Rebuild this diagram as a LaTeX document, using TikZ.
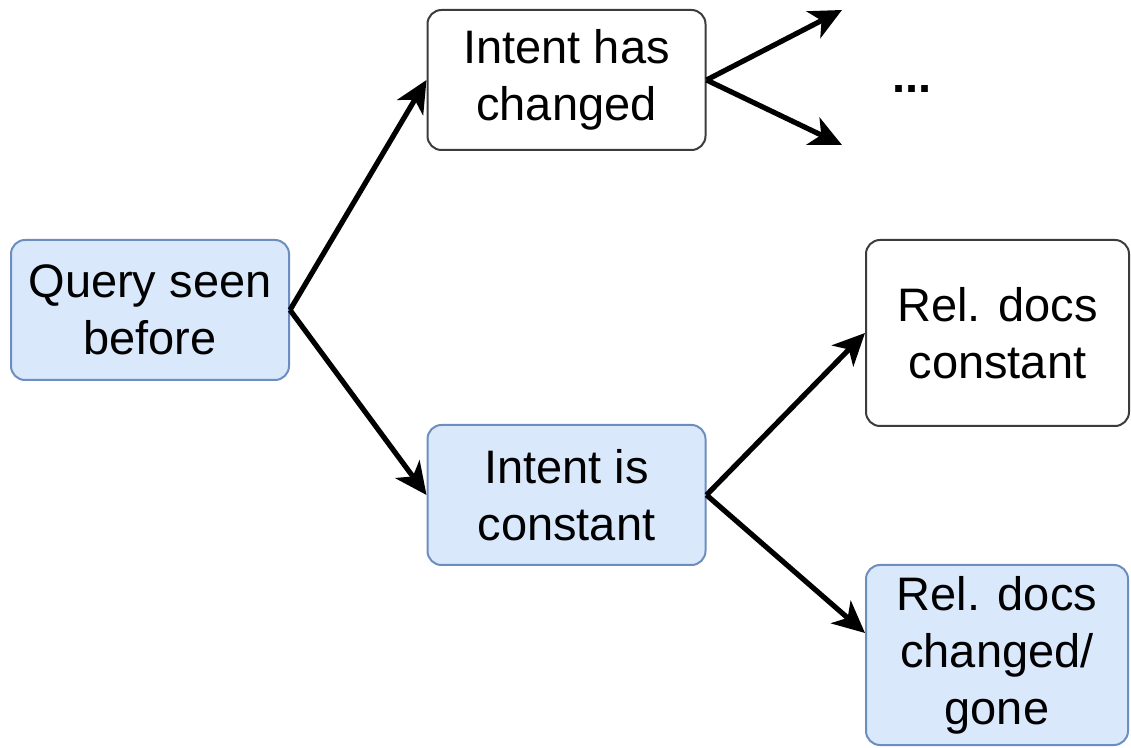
\documentclass[tikz,border=0pt]{standalone}
\usepackage{fontspec}
\setmainfont{Liberation Sans}
\usetikzlibrary{arrows.meta,calc}
\definecolor{bfill}{RGB}{218,232,252}
\definecolor{bdraw}{RGB}{108,142,191}
\definecolor{gdraw}{RGB}{60,60,60}
\tikzset{
  box/.style={rectangle, rounded corners=7pt, line width=1pt, align=center,
    inner sep=0pt, font=\fontsize{23.5pt}{28.5pt}\selectfont},
  bluebox/.style={box, fill=bfill, draw=bdraw},
  whitebox/.style={box, fill=white, draw=gdraw},
  arr/.style={line width=2.6pt, -{Stealth[length=16pt,width=15pt,inset=4.5pt]}},
}
\begin{document}
\begin{tikzpicture}[x=0.5pt,y=-0.5pt]
\useasboundingbox (0,0) rectangle (1131,748);
\node[bluebox, minimum width=139pt, minimum height=70pt] (q) at (150,310) {Query seen\\before};
\node[whitebox, minimum width=139pt, minimum height=70pt] (ihc) at (566.5,80) {Intent has\\changed};
\node[bluebox, minimum width=139pt, minimum height=70pt] (iic) at (566.5,495) {Intent is\\constant};
\node[whitebox, minimum width=131.5pt, minimum height=93pt] (rdc) at (997.5,333) {Rel. docs\\constant};
\node[bluebox, minimum width=131pt, minimum height=90pt] (chg) at (997,655) {Rel. docs\\changed/\\gone};
\coordinate (u1) at (842,10);
\coordinate (u2) at (842,145);
\node[anchor=base, font=\fontsize{23.5pt}{28.5pt}\selectfont\bfseries] (dots) at (912,93) {...};
\draw[arr] (q.east) -- (ihc.west);
\draw[arr] (q.east) -- (iic.west);
\draw[arr] (ihc.east) -- (u1);
\draw[arr] (ihc.east) -- (u2);
\draw[arr] (iic.east) -- (rdc.west);
\draw[arr] (iic.east) -- ($(chg.west)+(0,-22)$);
\end{tikzpicture}
\end{document}
